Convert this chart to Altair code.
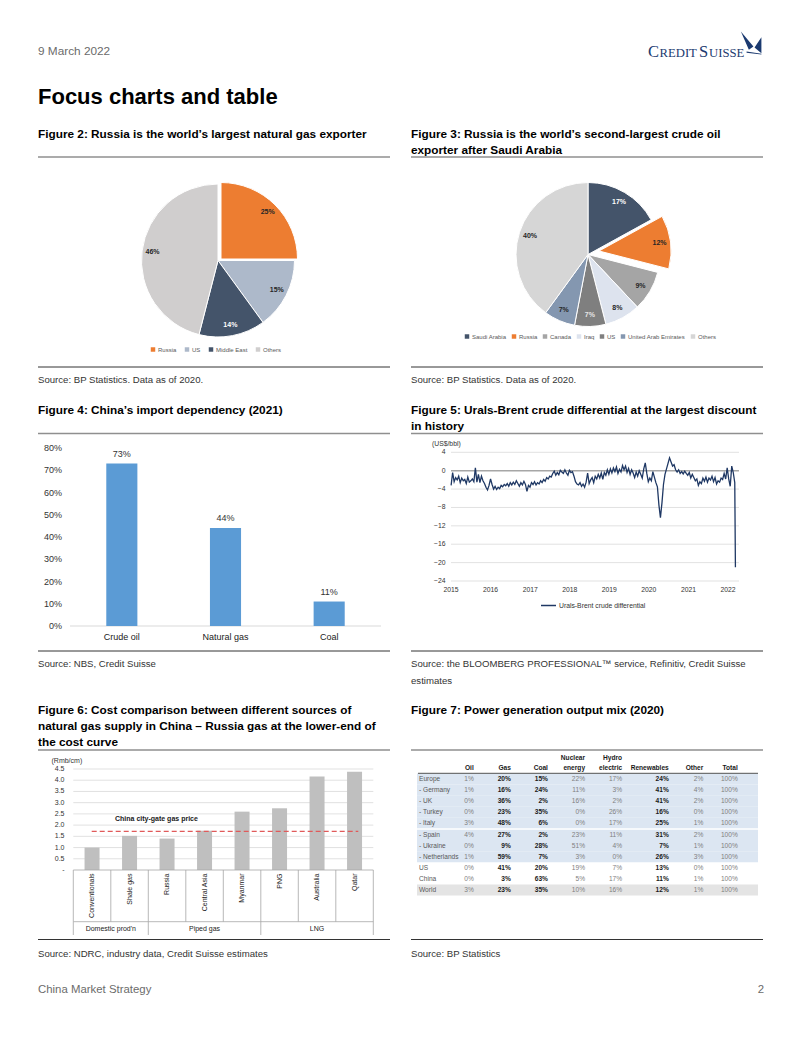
import altair as alt
import pandas as pd
import json

FONT = "Liberation Sans"
OFF = 8


def px(v):
    return v - OFF


layers = []


def one():
    return pd.DataFrame({"k": [0]})


def add_text(s, x, y, size, bold=False, color="#000000", align="left",
             baseline="middle", font=FONT, angle=None):
    kw = dict(align=align, baseline=baseline, font=font, fontSize=size,
              fontWeight="bold" if bold else "normal", color=color)
    if angle is not None:
        kw["angle"] = angle
    layers.append(alt.Chart(pd.DataFrame({"t": [s]})).mark_text(**kw).encode(
        x=alt.value(px(x)), y=alt.value(px(y)), text="t:N"))


def add_hrule(x1, x2, y, color, w=1.0, dash=None):
    kw = dict(color=color, strokeWidth=w)
    if dash:
        kw["strokeDash"] = dash
    layers.append(alt.Chart(one()).mark_rule(**kw).encode(
        x=alt.value(px(x1)), x2=alt.value(px(x2)), y=alt.value(px(y))))


# ---------------------------------------------------------------- data
f2_names = ["Russia", "US", "Middle East", "Others"]
f2_values = [25, 15, 14, 46]
f2_colors = ["#ED7D31", "#ADB9CA", "#44546A", "#D0CECE"]

f3_names = ["Saudi Arabia", "Russia", "Canada", "Iraq", "US", "United Arab Emirates", "Others"]
f3_values = [17, 12, 9, 8, 7, 7, 40]
f3_colors = ["#44546A", "#ED7D31", "#A5A5A5", "#DDE3EE", "#7F7F7F", "#8497B0", "#D6D6D6"]

f4_cats = ["Crude oil", "Natural gas", "Coal"]
f4_values = [73, 44, 11]
f4_ticks = [0, 10, 20, 30, 40, 50, 60, 70, 80]
f4_tick_labels = ["0%", "10%", "20%", "30%", "40%", "50%", "60%", "70%", "80%"]

f5_series = "Urals-Brent crude differential"
f5_values = [
    # 2015
    -3.2, -0.4, -2.4, -1.5, -2.0, -1.2, -2.6, -1.6, -2.2, -1.9, -2.8, -1.4, -2.5,
    -2.2, -1.8, -2.4, 0.6, -2.5, -0.8, -2.6, -1.2, -2.2, -2.8, -3.6, -4.2, -3.2,
    # 2016
    -1.8, -3.0, -4.0, -3.4, -4.1, -3.6, -3.9, -3.2, -3.5, -3.0, -3.3, -2.8, -3.4,
    -2.6, -3.1, -2.5, -3.0, -2.2, -2.8, -3.4, -2.6, -3.1, -2.3, -3.0, -4.5, -3.2,
    # 2017
    -3.6, -2.6, -3.0, -2.4, -3.1, -2.6, -2.9, -2.2, -2.6, -1.9, -2.3, -1.5, -1.8,
    -1.2, -1.4, -0.6, -0.1, -1.0, -0.4, -0.9, 0.1, -0.3, -0.6, 0.2, -0.5, -1.0,
    # 2018
    0.1, -0.4, -0.2, -1.2, -2.4, -2.9, -3.1, -2.6, -3.4, -2.9, -3.6, -2.5, -0.5,
    -2.8, -2.0, -1.5, -2.6, -1.2, -1.8, -0.8, -1.6, -0.5, -1.9, -0.4, -1.0, 0.2,
    # 2019
    -0.8, 0.4, -0.5, 0.6, -0.2, 0.8, -0.6, 0.3, -0.3, 1.1, 0.2, 1.0, -0.4,
    0.5, -0.8, 0.2, -0.5, -1.5, -0.3, -1.2, 0.0, -0.8, -1.6, 0.4, 1.7, -0.6,
    # 2020
    -2.4, -1.6, -2.2, -0.2, -1.4, -2.6, -3.5, -7.5, -10.2, -7.0, -3.0, -0.8, 0.4,
    1.6, 2.8, 1.9, 1.0, 1.3, 0.2, -0.3, 0.2, -0.6, -0.2, -0.7, -0.1, -0.6,
    # 2021
    -1.0, -0.4, -1.6, -0.8, -1.5, -2.2, -1.8, -3.2, -2.4, -2.8, -1.6, -2.3, -1.4,
    -2.5, -1.6, -2.0, -1.2, -2.4, -1.5, -2.9, -2.2, -2.5, -1.6, -1.9, -0.6, -1.8,
    # 2022
    0.6, -1.8, -3.4, 1.0, -0.4, -2.6, -21.0,
]
f5_dates = [d.strftime("%Y-%m-%d") for d in pd.date_range("2015-01-02", periods=len(f5_values) - 1, freq="14D")] + ["2022-03-10"]
f5_ticks = [4, 0, -4, -8, -12, -16, -20, -24]
f5_years = ["2015", "2016", "2017", "2018", "2019", "2020", "2021", "2022"]

f6_cats = ["Conventionals", "Shale gas", "Russia", "Central Asia", "Myanmar", "PNG", "Australia", "Qatar"]
f6_values = [1.0, 1.52, 1.4, 1.75, 2.6, 2.75, 4.17, 4.38]
f6_group_starts = ["Conventionals", "Russia", "PNG"]
f6_price = 1.72
f6_ticks = [0, 0.5, 1.0, 1.5, 2.0, 2.5, 3.0, 3.5, 4.0, 4.5]
f6_tick_labels = ["-", "0.5", "1.0", "1.5", "2.0", "2.5", "3.0", "3.5", "4.0", "4.5"]

t_rows = ["Europe", "\u00a0- Germany", "\u00a0- UK", "\u00a0- Turkey", "\u00a0- Italy",
          "\u00a0- Spain", "\u00a0- Ukraine", "\u00a0- Netherlands", "US", "China", "World"]
t_cols_a = ["Oil", "Gas", "Coal", "Nuclear energy", "Hydro electric"]
t_cols_b = ["Renewables", "Other", "Total"]
t_cols = t_cols_a + t_cols_b
t_head1 = ["", "", "", "Nuclear", "Hydro", "", "", ""]
t_head2 = ["Oil", "Gas", "Coal", "energy", "electric", "Renewables", "Other", "Total"]
t_oil = [1, 1, 0, 0, 3, 4, 0, 1, 0, 0, 3]
t_gas = [20, 16, 36, 23, 48, 27, 9, 59, 41, 3, 23]
t_coal = [15, 24, 2, 35, 6, 2, 28, 7, 20, 63, 35]
t_nuclear = [22, 11, 16, 0, 0, 23, 51, 3, 19, 5, 10]
t_hydro = [17, 3, 2, 26, 17, 11, 4, 0, 7, 17, 16]
t_renew = [24, 41, 41, 16, 25, 31, 7, 26, 13, 11, 12]
t_other = [2, 4, 2, 0, 1, 2, 1, 3, 0, 1, 1]
t_total = [100] * 11
t_bold_cols = ["Gas", "Coal", "Renewables"]

# ---------------------------------------------------------------- header / footer
add_text("9 March 2022", 38, 51, 11.8, color="#6b6b6b")
logo_c = "#1B3A70"
add_text("C", 648, 57, 16.5, color=logo_c, baseline="alphabetic", font="Liberation Serif")
add_text("REDIT", 659.5, 57, 12.7, color=logo_c, baseline="alphabetic", font="Liberation Serif")
add_text("S", 699, 57, 16.5, color=logo_c, baseline="alphabetic", font="Liberation Serif")
add_text("UISSE", 709, 57, 12.7, color=logo_c, baseline="alphabetic", font="Liberation Serif")
layers.append(alt.Chart(one()).mark_point(
    shape="M -0.8 -1 L 0.3 0.3 L -0.1 0.6 Z M 1 -0.5 L 0.4 0.4 L 1 0.9 Z M -0.3 0.75 L 1 0.95 L 1 1 L -0.3 0.85 Z",
    filled=True, color=logo_c, size=520, opacity=1, strokeWidth=0).encode(
    x=alt.value(px(750)), y=alt.value(px(43))))
add_text("Focus charts and table", 38, 97, 22, bold=True)
add_text("China Market Strategy", 38, 990, 11.4, color="#6b6b6b")
add_text("2", 764, 990, 11.4, color="#6b6b6b", align="right")

# ---------------------------------------------------------------- titles, rules, sources
TS = 11.8
add_text("Figure 2: Russia is the world\u2019s largest natural gas exporter", 38, 134, TS, bold=True)
add_text("Figure 3: Russia is the world\u2019s second-largest crude oil", 411, 134, TS, bold=True)
add_text("exporter after Saudi Arabia", 411, 150, TS, bold=True)
add_text("Figure 4: China\u2019s import dependency (2021)", 38, 410, TS, bold=True)
add_text("Figure 5: Urals-Brent crude differential at the largest discount", 411, 410, TS, bold=True)
add_text("in history", 411, 426, TS, bold=True)
add_text("Figure 6: Cost comparison between different sources of", 38, 710, TS, bold=True)
add_text("natural gas supply in China \u2013 Russia gas at the lower-end of", 38, 726, TS, bold=True)
add_text("the cost curve", 38, 742, TS, bold=True)
add_text("Figure 7: Power generation output mix (2020)", 411, 710, TS, bold=True)

for y in (157, 433.5, 750):
    add_hrule(38, 390, y, "#8f8f8f", 1.5)
    add_hrule(411, 763, y, "#8f8f8f", 1.5)
for y in (367, 651, 939.5):
    add_hrule(38, 390, y, "#333333", 1.0)
    add_hrule(411, 763, y, "#333333", 1.0)

SS = 9.6
SC = "#333333"
add_text("Source: BP Statistics. Data as of 2020.", 38, 380, SS, color=SC)
add_text("Source: BP Statistics. Data as of 2020.", 411, 380, SS, color=SC)
add_text("Source: NBS, Credit Suisse", 38, 664, SS, color=SC)
add_text("Source: the BLOOMBERG PROFESSIONAL\u2122 service, Refinitiv, Credit Suisse", 411, 664, SS, color=SC)
add_text("estimates", 411, 681, SS, color=SC)
add_text("Source: NDRC, industry data, Credit Suisse estimates", 38, 954, SS, color=SC)
add_text("Source: BP Statistics", 411, 954, SS, color=SC)


# ---------------------------------------------------------------- pies
def pie(names, values, colors, cx, cy, r, lr, explode, ex, ey, white_labels, light_labels, lx, ly, colpad):
    df = pd.DataFrame({"name": names, "v": values, "k": list(range(len(names)))})
    df["lab"] = [f"{v}%" for v in values]
    lc_expr = ("indexof(%s, datum.name) >= 0 ? '#FFFFFF' : (indexof(%s, datum.name) >= 0 ? '#E6E6E6' : '#262626')"
               % (json.dumps(white_labels), json.dumps(light_labels)))
    base = alt.Chart(df).transform_window(
        cum="sum(v)", sort=[alt.SortField("k")], frame=[None, 0]
    ).transform_calculate(start="datum.cum - datum.v", mid="datum.cum - datum.v / 2", lc=lc_expr)
    th = alt.Scale(domain=[0, 100], range=[0, 6.283185307])
    others = [n for n in names if n != explode]
    main = base.transform_filter(alt.FieldOneOfPredicate(field="name", oneOf=others)).mark_arc(
        radius=r, stroke="white", strokeWidth=1).encode(
        theta=alt.Theta("start:Q", scale=th, stack=None),
        theta2="cum:Q",
        color=alt.Color("name:N", scale=alt.Scale(domain=names, range=colors),
                        legend=alt.Legend(orient="none", legendX=px(lx), legendY=px(ly),
                                          direction="horizontal", title=None, symbolType="square",
                                          symbolSize=20, symbolStrokeWidth=0, labelFont=FONT,
                                          labelFontSize=6, labelColor="#595959",
                                          columnPadding=colpad, labelOffset=2, padding=0)),
        x=alt.value(px(cx)), y=alt.value(px(cy)))
    ecol = colors[names.index(explode)]
    exp = base.transform_filter(alt.datum.name == explode).mark_arc(
        radius=r, stroke="white", strokeWidth=1, color=ecol).encode(
        theta=alt.Theta("start:Q", scale=th, stack=None),
        theta2="cum:Q",
        x=alt.value(px(cx + ex)), y=alt.value(px(cy + ey)))
    tkw = dict(radius=lr, font=FONT, fontSize=7, fontWeight="bold", align="center", baseline="middle")
    labs = base.transform_filter(alt.FieldOneOfPredicate(field="name", oneOf=others)).mark_text(**tkw).encode(
        theta=alt.Theta("mid:Q", scale=th, stack=None), text="lab:N",
        color=alt.Color("lc:N", scale=None),
        x=alt.value(px(cx)), y=alt.value(px(cy)))
    elab = base.transform_filter(alt.datum.name == explode).mark_text(**tkw).encode(
        theta=alt.Theta("mid:Q", scale=th, stack=None), text="lab:N",
        color=alt.Color("lc:N", scale=None),
        x=alt.value(px(cx + ex)), y=alt.value(px(cy + ey)))
    layers.extend([main, exp, labs, elab])


pie(f2_names, f2_values, f2_colors, 218, 260.5, 76.5, 66, "Russia", 3, -1.5,
    ["Middle East"], [], 150, 346.5, 7)
pie(f3_names, f3_values, f3_colors, 588, 254.5, 72, 61, "Russia", 11, -3.5,
    ["Saudi Arabia"], ["US"], 464, 333.5, 4)

# ---------------------------------------------------------------- figure 4
f4x = alt.Scale(domain=f4_cats, range=[px(70), px(381)], paddingInner=0.7, paddingOuter=0.35)
f4y = alt.Scale(domain=[0, 80], range=[px(626), px(448)])
df4 = pd.DataFrame({"cat": f4_cats, "v": f4_values, "lab": [f"{v}%" for v in f4_values]})
layers.append(alt.Chart(pd.DataFrame({"v": [0]})).mark_rule(color="#D9D9D9", strokeWidth=1).encode(
    y=alt.Y("v:Q", scale=f4y, axis=None), x=alt.value(px(70)), x2=alt.value(px(381))))
layers.append(alt.Chart(df4).mark_bar(color="#5B9BD5").encode(
    x=alt.X("cat:N", scale=f4x, axis=None), y=alt.Y("v:Q", scale=f4y, axis=None)))
layers.append(alt.Chart(df4).mark_text(dy=-10, font=FONT, fontSize=9, color="#333333", baseline="middle").encode(
    x=alt.X("cat:N", scale=f4x, axis=None), y=alt.Y("v:Q", scale=f4y, axis=None), text="lab:N"))
layers.append(alt.Chart(df4).mark_text(font=FONT, fontSize=9, color="#222222", baseline="middle").encode(
    x=alt.X("cat:N", scale=f4x, axis=None), y=alt.value(px(637)), text="cat:N"))
layers.append(alt.Chart(pd.DataFrame({"v": f4_ticks, "lab": f4_tick_labels})).mark_text(
    font=FONT, fontSize=9, color="#333333", align="right", baseline="middle").encode(
    y=alt.Y("v:Q", scale=f4y, axis=None), x=alt.value(px(62)), text="lab:N"))

# ---------------------------------------------------------------- figure 5
f5x = alt.Scale(domain=[alt.DateTime(year=2015, month=1, date=1), alt.DateTime(year=2022, month=3, date=20)],
                range=[px(451), px(736.5)])
f5y = alt.Scale(domain=[-24, 4], range=[px(581), px(452.3)])
L5 = 6.8
grid5 = pd.DataFrame({"v": [t for t in f5_ticks if t != 0]})
layers.append(alt.Chart(grid5).mark_rule(color="#D9D9D9", strokeWidth=0.8).encode(
    y=alt.Y("v:Q", scale=f5y, axis=None), x=alt.value(px(451)), x2=alt.value(px(739))))
layers.append(alt.Chart(pd.DataFrame({"v": [0]})).mark_rule(color="#A6A6A6", strokeWidth=1.4).encode(
    y=alt.Y("v:Q", scale=f5y, axis=None), x=alt.value(px(451)), x2=alt.value(px(739))))
df5 = pd.DataFrame({"date": f5_dates, "v": f5_values, "s": f5_series})
layers.append(alt.Chart(df5).mark_line(strokeWidth=1.3).encode(
    x=alt.X("date:T", scale=f5x, axis=None),
    y=alt.Y("v:Q", scale=f5y, axis=None),
    color=alt.Color("s:N", scale=alt.Scale(domain=[f5_series], range=["#1F3864"]),
                    legend=alt.Legend(orient="none", legendX=px(540), legendY=px(597), title=None,
                                      symbolType="stroke", symbolSize=225, symbolStrokeWidth=1.5,
                                      labelFont=FONT, labelFontSize=L5, labelColor="#333333",
                                      labelOffset=2, padding=0))))
layers.append(alt.Chart(pd.DataFrame({"v": f5_ticks})).mark_text(
    font=FONT, fontSize=L5, color="#333333", align="right", baseline="middle").encode(
    y=alt.Y("v:Q", scale=f5y, axis=None), x=alt.value(px(445.5)), text="v:Q"))
df5y = pd.DataFrame({"d": [f"{y}-01-01" for y in f5_years], "lab": f5_years})
layers.append(alt.Chart(df5y).mark_text(
    font=FONT, fontSize=L5, color="#333333", align="center", baseline="middle").encode(
    x=alt.X("d:T", scale=f5x, axis=None), y=alt.value(px(590)), text="lab:N"))
add_text("(US$/bbl)", 432, 444, L5, color="#333333")

# ---------------------------------------------------------------- figure 6
f6x = alt.Scale(domain=f6_cats, range=[px(73.3), px(373.3)], paddingInner=0.6, paddingOuter=0.3)
f6s = alt.Scale(domain=f6_cats, range=[px(73.3), px(373.3)], paddingInner=0, paddingOuter=0)
f6y = alt.Scale(domain=[0, 4.5], range=[px(870), px(769)])
L6 = 7
layers.append(alt.Chart(pd.DataFrame({"v": f6_ticks[1:]})).mark_rule(color="#D9D9D9", strokeWidth=0.8).encode(
    y=alt.Y("v:Q", scale=f6y, axis=None), x=alt.value(px(73.3)), x2=alt.value(px(373.3))))
df6 = pd.DataFrame({"cat": f6_cats, "v": f6_values})
layers.append(alt.Chart(df6).mark_bar(color="#BFBFBF").encode(
    x=alt.X("cat:N", scale=f6x, axis=None), y=alt.Y("v:Q", scale=f6y, axis=None)))
layers.append(alt.Chart(pd.DataFrame({"v": [0]})).mark_rule(color="#A6A6A6", strokeWidth=0.8).encode(
    y=alt.Y("v:Q", scale=f6y, axis=None), x=alt.value(px(73.3)), x2=alt.value(px(373.3))))
add_hrule(73.3, 373.3, 921.7, "#A6A6A6", 0.8)
layers.append(alt.Chart(pd.DataFrame({"cat": f6_cats})).mark_rule(color="#A6A6A6", strokeWidth=0.8).encode(
    x=alt.X("cat:N", scale=f6s, axis=None, bandPosition=0), y=alt.value(px(870)), y2=alt.value(px(921.7))))
layers.append(alt.Chart(pd.DataFrame({"cat": f6_group_starts})).mark_rule(color="#A6A6A6", strokeWidth=0.8).encode(
    x=alt.X("cat:N", scale=f6s, axis=None, bandPosition=0), y=alt.value(px(921.7)), y2=alt.value(px(935))))
layers.append(alt.Chart(pd.DataFrame({"cat": [f6_cats[-1]]})).mark_rule(color="#A6A6A6", strokeWidth=0.8).encode(
    x=alt.X("cat:N", scale=f6s, axis=None, bandPosition=1), y=alt.value(px(870)), y2=alt.value(px(935))))
layers.append(alt.Chart(pd.DataFrame({"p": [f6_price]})).mark_rule(
    color="#E05A5A", strokeWidth=1.3, strokeDash=[5, 3]).encode(
    y=alt.Y("p:Q", scale=f6y, axis=None), x=alt.value(px(91.7)), x2=alt.value(px(358.3))))
add_text("China city-gate gas price", 115, 819.3, L6, bold=True, color="#1a1a1a")
layers.append(alt.Chart(df6).mark_text(
    font=FONT, fontSize=L6, color="#222222", angle=270, align="right", baseline="middle").encode(
    x=alt.X("cat:N", scale=f6x, axis=None), y=alt.value(px(873.5)), text="cat:N"))
# group label centred on the boundary between its two categories (half a step left of Shale gas)
layers.append(alt.Chart(pd.DataFrame({"g": ["Domestic prod'n"], "cat": ["Shale gas"]})).mark_text(
    font=FONT, fontSize=L6, color="#222222", baseline="middle", dx=-18.75).encode(
    x=alt.X("cat:N", scale=f6s, axis=None), y=alt.value(px(929)), text="g:N"))
layers.append(alt.Chart(pd.DataFrame({"g": ["Piped gas", "LNG"], "cat": ["Central Asia", "Australia"]})).mark_text(
    font=FONT, fontSize=L6, color="#222222", baseline="middle").encode(
    x=alt.X("cat:N", scale=f6s, axis=None), y=alt.value(px(929)), text="g:N"))
layers.append(alt.Chart(pd.DataFrame({"v": f6_ticks, "lab": f6_tick_labels})).mark_text(
    font=FONT, fontSize=L6, color="#333333", align="right", baseline="middle").encode(
    y=alt.Y("v:Q", scale=f6y, axis=None), x=alt.value(px(64.5)), text="lab:N"))
add_text("(Rmb/cm)", 51.5, 761, L6, color="#333333")

# ---------------------------------------------------------------- figure 7 table
txa = alt.Scale(domain=t_cols_a, range=[px(458.2), px(643.7)], paddingInner=0, paddingOuter=0)
txb = alt.Scale(domain=t_cols_b, range=[px(654.5), px(758)], paddingInner=0, paddingOuter=0)
tys = alt.Scale(domain=t_rows, range=[px(773.5), px(895.5)], paddingInner=0, paddingOuter=0)
T7 = 6.6
layers.append(alt.Chart(pd.DataFrame({"row": t_rows[:8]})).mark_rect(color="#DCE6F2").encode(
    y=alt.Y("row:N", scale=tys, axis=None), x=alt.value(px(417)), x2=alt.value(px(758))))
layers.append(alt.Chart(pd.DataFrame({"row": t_rows[-1:]})).mark_rect(color="#E4E4E4").encode(
    y=alt.Y("row:N", scale=tys, axis=None), x=alt.value(px(417)), x2=alt.value(px(758))))
layers.append(alt.Chart(pd.DataFrame({"row": [t_rows[5]]})).mark_rule(color="#FFFFFF", strokeWidth=1.5).encode(
    y=alt.Y("row:N", scale=tys, axis=None, bandPosition=0), x=alt.value(px(417)), x2=alt.value(px(758))))
add_hrule(418, 758, 773.3, "#404040", 0.9)
cols_data = [t_oil, t_gas, t_coal, t_nuclear, t_hydro, t_renew, t_other, t_total]
recs = []
for j, c in enumerate(t_cols):
    for i, r in enumerate(t_rows):
        recs.append({"row": r, "col": c, "lab": f"{cols_data[j][i]}%", "b": c in t_bold_cols,
                     "grp": "a" if c in t_cols_a else "b"})
dft = pd.DataFrame(recs)
dfh = pd.DataFrame({"col": t_cols, "h1": t_head1, "h2": t_head2})
dfh["grp"] = ["a" if c in t_cols_a else "b" for c in t_cols]
layers.append(alt.Chart(pd.DataFrame({"row": t_rows})).mark_text(
    font=FONT, fontSize=T7, color="#595959", align="left", baseline="middle").encode(
    y=alt.Y("row:N", scale=tys, axis=None), x=alt.value(px(419)), text="row:N"))
for grp, sc in (("a", txa), ("b", txb)):
    sub = dft[dft["grp"] == grp]
    layers.append(alt.Chart(sub[~sub["b"]]).mark_text(
        font=FONT, fontSize=T7, color="#808080", align="right", baseline="middle", dx=-3).encode(
        x=alt.X("col:N", scale=sc, axis=None, bandPosition=1), y=alt.Y("row:N", scale=tys, axis=None), text="lab:N"))
    layers.append(alt.Chart(sub[sub["b"]]).mark_text(
        font=FONT, fontSize=T7, fontWeight="bold", color="#1a1a1a", align="right", baseline="middle", dx=-3).encode(
        x=alt.X("col:N", scale=sc, axis=None, bandPosition=1), y=alt.Y("row:N", scale=tys, axis=None), text="lab:N"))
    hsub = dfh[dfh["grp"] == grp]
    layers.append(alt.Chart(hsub).mark_text(
        font=FONT, fontSize=T7, fontWeight="bold", color="#1a1a1a", align="right", baseline="middle", dx=-3).encode(
        x=alt.X("col:N", scale=sc, axis=None, bandPosition=1), y=alt.value(px(758.3)), text="h1:N"))
    layers.append(alt.Chart(hsub).mark_text(
        font=FONT, fontSize=T7, fontWeight="bold", color="#1a1a1a", align="right", baseline="middle", dx=-3).encode(
        x=alt.X("col:N", scale=sc, axis=None, bandPosition=1), y=alt.value(px(767.7)), text="h2:N"))

# ---------------------------------------------------------------- assemble
chart = alt.layer(*layers).resolve_scale(
    x="independent", y="independent", color="independent", theta="independent"
).properties(
    width=786, height=1021, padding=0, autosize=alt.AutoSizeParams(type="none"),
    background="white"
).configure_view(stroke=None)

chart.save("out.html", embed_options={"renderer": "svg", "actions": False})
